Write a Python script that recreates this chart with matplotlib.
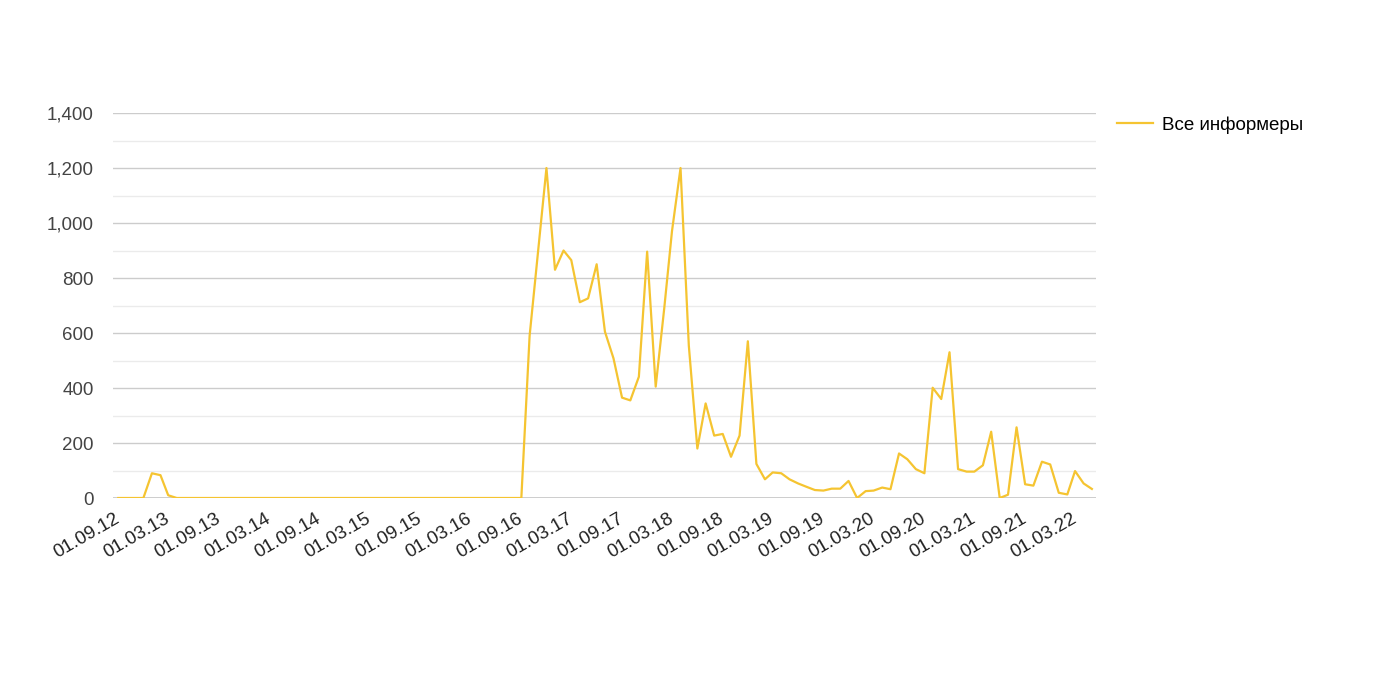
import matplotlib.pyplot as plt
import matplotlib.ticker as mticker
import pandas as pd

plt.rcParams["font.family"] = ["Liberation Sans", "DejaVu Sans"]

# monthly values, 01.09.12 .. 01.05.22
dates = pd.date_range("2012-09-01", periods=117, freq="MS")
values = (
    [0, 0, 0, 0, 90, 83, 10, 0]
    + [0] * 41
    + [590, 900, 1200, 830, 900, 865, 712, 726, 850, 605, 508, 365, 355,
       441, 896, 405, 690, 970, 1200, 555, 180, 344, 227, 233, 150, 227, 570,
       124, 68, 93, 90, 68, 53, 41, 29, 27, 34, 34, 62, 0, 25, 27, 38, 32,
       162, 141, 105, 90, 401, 360, 530, 105, 96, 96, 119, 241, 0, 12, 257,
       50, 45, 132, 122, 19, 13, 98, 53, 33]
)
series_name = "Все информеры"
tick_dates = pd.date_range("2012-09-01", "2022-03-01", freq="6MS")
tick_labels = [d.strftime("%d.%m.%y") for d in tick_dates]

fig = plt.figure(figsize=(13.75, 6.76), dpi=100)
ax = fig.add_axes([0.0822, 0.2633, 0.7149, 0.5695])

ax.plot(dates, values, color="#f5c431", linewidth=1.6, label=series_name)

ax.set_ylim(0, 1400)
ax.set_xlim(dates[0] - pd.Timedelta(days=19), dates[-1] + pd.Timedelta(days=15))
ax.yaxis.set_major_locator(mticker.MultipleLocator(200))
ax.yaxis.set_minor_locator(mticker.MultipleLocator(100))
ax.yaxis.set_major_formatter(mticker.FuncFormatter(lambda v, p: f"{int(v):,}"))
ax.grid(axis="y", which="major", color="#cccccc", linewidth=1)
ax.grid(axis="y", which="minor", color="#ebebeb", linewidth=1)
ax.set_axisbelow(True)
ax.axhline(0, color="#333333", linewidth=1, zorder=1)

ax.set_xticks(tick_dates)
ax.set_xticklabels(tick_labels, rotation=30, ha="right", va="center",
                   rotation_mode="anchor")
ax.tick_params(axis="x", length=0, pad=14, labelsize=13.5, labelcolor="#222222")
ax.tick_params(axis="y", which="both", length=0, pad=14, labelsize=13.5,
               labelcolor="#444444")

for s in ax.spines.values():
    s.set_visible(False)

fig.legend(loc="upper left", bbox_to_anchor=(0.800, 0.853), frameon=False,
           fontsize=13.5, handlelength=1.9, handletextpad=0.5)

fig.savefig("out.png", dpi=100)
